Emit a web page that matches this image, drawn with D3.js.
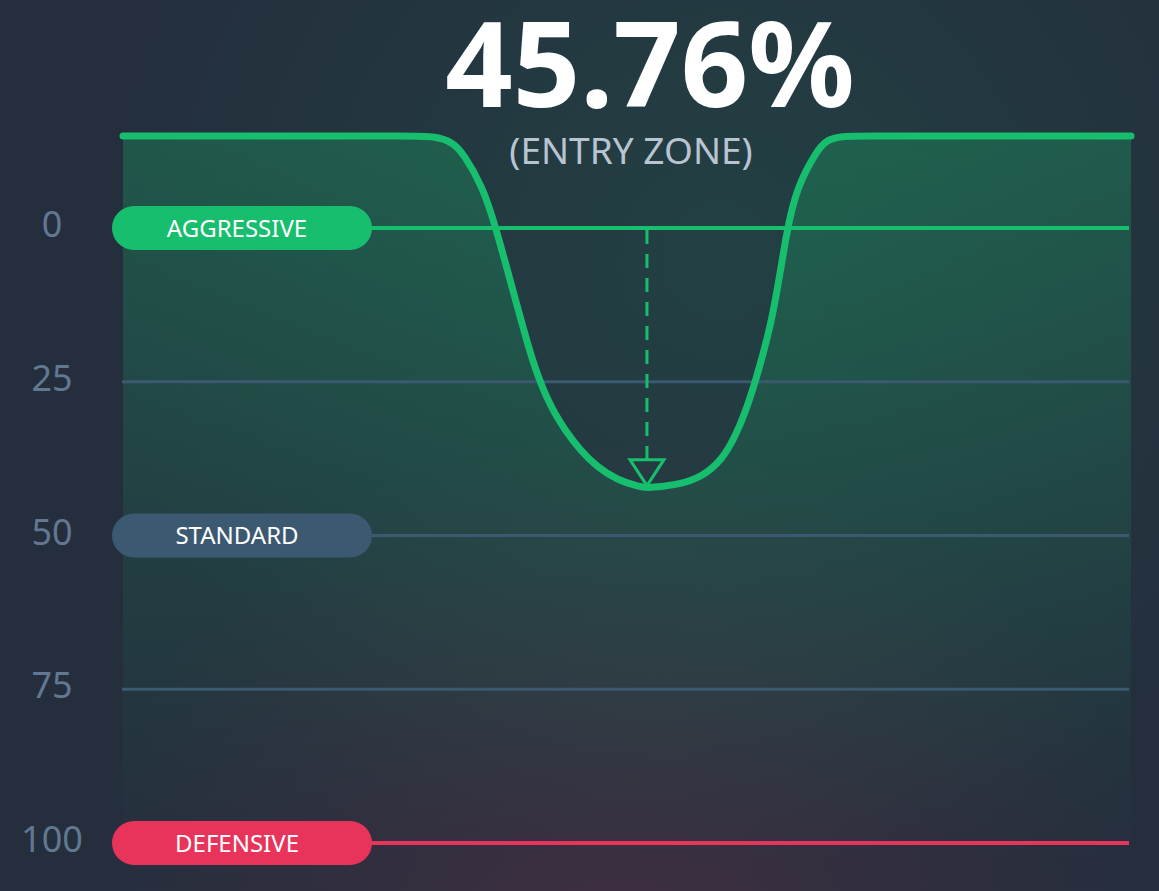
<!DOCTYPE html><head><meta charset = "utf-8">
<title>entry zone</title>
<style type = "text/css">
* {
  box-sizing: border-box;
}
html, body {
  margin: 0; padding: 0; background: #242e3d;
}
svg {
  display: block;
}
</style>
<script type="text/javascript" src="https://cdn.jsdelivr.net/npm/d3@7/dist/d3.min.js"></script>
</head><body>
<svg id="chart" width="1159" height="891"></svg>

<script type="text/javascript">

// curve samples (x: position 0..100, y: level 0..100, negative = above 0)
var curveX = [0, 10, 20, 28, 30.95, 32.74, 33.73, 35.71, 37.0, 38.59, 40.38, 41.17, 41.96, 42.86, 43.85, 45.34, 47.02,
              49.01, 51.29, 51.98, 55.06, 57.44, 59.42, 60.71, 61.71, 62.7, 64.48, 65.87, 66.87,
              68.85, 69.84, 71.13, 74, 80, 90, 100];
var curveY = [-14.96, -14.96, -14.96, -14.96, -14.96, -13.9, -12.2, -6.67, 0, 9.59, 20.33, 24.07, 27.32, 30.24, 32.85, 36.1, 38.86,
              40.98, 42.11, 42.28, 41.79, 40.49, 37.72, 33.98, 30.08, 25.2, 14.96, 0, -6.67,
              -12.68, -14.3, -14.96, -14.96, -14.96, -14.96, -14.96];

var levels = [0, 25, 50, 75, 100];
var zoneLevels = [0, 50, 100];
var zoneNames = ["AGGRESSIVE", "STANDARD", "DEFENSIVE"];
var zoneColors = ["#17be6d", "#3b5a72", "#e8345a"];
var markerX = 51.98;
var markerY = 41.9;
var headline = "45.76%";
var subline = "(ENTRY ZONE)";

var width = 1159, height = 891;
var svg = d3.select("#chart");
var defs = svg.append("defs");

// background glows
var g1 = defs.append("radialGradient").attr("id", "glowGreen")
  .attr("gradientUnits", "userSpaceOnUse").attr("cx", 720).attr("cy", 260).attr("r", 620);
g1.append("stop").attr("offset", 0).attr("stop-color", "#17be6d").attr("stop-opacity", 0.13);
g1.append("stop").attr("offset", 1).attr("stop-color", "#17be6d").attr("stop-opacity", 0);
var g2 = defs.append("radialGradient").attr("id", "glowRed")
  .attr("gradientUnits", "userSpaceOnUse").attr("cx", 620).attr("cy", 980).attr("r", 560);
g2.append("stop").attr("offset", 0).attr("stop-color", "#e8345a").attr("stop-opacity", 0.14);
g2.append("stop").attr("offset", 1).attr("stop-color", "#e8345a").attr("stop-opacity", 0);
var g3 = defs.append("linearGradient").attr("id", "areaFill")
  .attr("gradientUnits", "userSpaceOnUse").attr("x1", 0).attr("y1", 136).attr("x2", 0).attr("y2", 860);
g3.append("stop").attr("offset", 0).attr("stop-color", "#17be6d").attr("stop-opacity", 0.28);
g3.append("stop").attr("offset", 0.65).attr("stop-color", "#17be6d").attr("stop-opacity", 0.09);
g3.append("stop").attr("offset", 1).attr("stop-color", "#17be6d").attr("stop-opacity", 0);

svg.append("rect").attr("width", width).attr("height", height).attr("fill", "#242e3d");
svg.append("rect").attr("width", width).attr("height", height).attr("fill", "url(#glowGreen)");
svg.append("rect").attr("width", width).attr("height", height).attr("fill", "url(#glowRed)");

var x = d3.scaleLinear().domain([0, 100]).range([123, 1131]);
var y = d3.scaleLinear().domain([0, 100]).range([228, 843]);
var pts = curveX.map(function(d, i) { return [d, curveY[i]]; });
var smooth = d3.curveBasis;

// area under the curve
svg.append("path")
  .datum(pts)
  .attr("fill", "url(#areaFill)")
  .attr("d", d3.area().curve(smooth)
    .x(function(d) { return x(d[0]); })
    .y0(y(108))
    .y1(function(d) { return y(d[1]); }));

// level lines
var pillLeft = 112, pillRight = 372;
svg.selectAll("line.level")
  .data(levels)
  .join("line").attr("class", "level")
  .attr("x1", function(d) { return zoneLevels.indexOf(d) >= 0 ? pillRight - 2 : x(0) - 1; })
  .attr("x2", x(100) - 2)
  .attr("y1", function(d) { return y(d); })
  .attr("y2", function(d) { return y(d); })
  .attr("stroke", function(d) {
    var k = zoneLevels.indexOf(d);
    return k == 0 ? zoneColors[0] : (k == 2 ? zoneColors[2] : "#3b5a72");
  })
  .attr("stroke-width", function(d) { return (d == 0 || d == 100) ? 4 : 3; });

// y tick labels
svg.selectAll("text.tick")
  .data(levels)
  .join("text").attr("class", "tick")
  .attr("x", 52)
  .attr("y", function(d) { return y(d); })
  .attr("dy", "0.25em")
  .attr("text-anchor", "middle")
  .style("font-family", "'Noto Sans', sans-serif")
  .style("font-size", "36px")
  .attr("fill", "#627890")
  .text(function(d) { return d; });

// zone pills
var pills = svg.selectAll("g.pill")
  .data(zoneNames)
  .join("g").attr("class", "pill")
  .attr("transform", function(d, i) { return "translate(0," + y(zoneLevels[i]) + ")"; });
pills.append("rect")
  .attr("x", pillLeft).attr("y", -22)
  .attr("width", pillRight - pillLeft).attr("height", 44)
  .attr("rx", 22)
  .attr("fill", function(d, i) { return zoneColors[i]; });
pills.append("text")
  .attr("x", 237).attr("y", 0).attr("dy", "0.36em")
  .attr("text-anchor", "middle")
  .style("font-family", "'Noto Sans', sans-serif")
  .style("font-size", "24px")
  .attr("fill", "#ffffff")
  .text(function(d) { return d; });

// dashed marker with open triangle
var tipY = y(markerY);
svg.append("line")
  .attr("x1", x(markerX)).attr("x2", x(markerX))
  .attr("y1", y(0) + 2).attr("y2", tipY - 26)
  .attr("stroke", "#17be6d").attr("stroke-width", 3)
  .attr("stroke-dasharray", "14,10");
svg.append("path")
  .attr("d", "M" + (x(markerX) - 17) + "," + (tipY - 26) + "L" + (x(markerX) + 17) + "," + (tipY - 26) +
             "L" + x(markerX) + "," + tipY + "Z")
  .attr("fill", "none").attr("stroke", "#17be6d").attr("stroke-width", 3)
  .attr("stroke-linejoin", "miter");

// the curve
svg.append("path")
  .datum(pts)
  .attr("fill", "none")
  .attr("stroke", "#17be6d")
  .attr("stroke-width", 7)
  .attr("stroke-linecap", "round")
  .attr("d", d3.line().curve(smooth)
    .x(function(d) { return x(d[0]); })
    .y(function(d) { return y(d[1]); }));

// headline
svg.append("text")
  .attr("x", 650).attr("y", 107)
  .attr("text-anchor", "middle")
  .style("font-family", "'Noto Sans', sans-serif")
  .style("font-weight", "bold")
  .style("font-size", "118px")
  .attr("fill", "#ffffff")
  .text(headline);
svg.append("text")
  .attr("x", 631).attr("y", 164)
  .attr("text-anchor", "middle")
  .style("font-family", "'Noto Sans', sans-serif")
  .style("font-size", "37px")
  .attr("fill", "#b9c4d2")
  .text(subline);

</script>
</body></html>
